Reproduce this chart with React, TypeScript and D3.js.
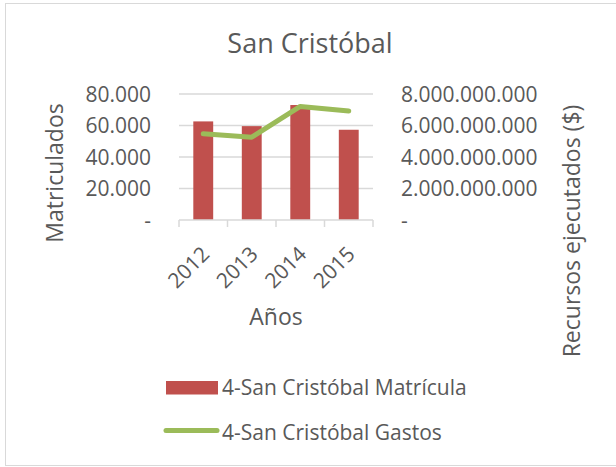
import React from 'react';
import * as d3 from 'd3';

// data
const years = ['2012', '2013', '2014', '2015'];
const matricula = [62600, 59600, 73000, 57300];
const gastos = [5470000000, 5260000000, 7210000000, 6920000000];
const leftTicks = [0, 20000, 40000, 60000, 80000];
const rightTicks = [0, 2000000000, 4000000000, 6000000000, 8000000000];

const W = 616;
const H = 467;
const FONT = '"Open Sans", sans-serif';
const TXT = '#595959';

// numbers like 80.000 (dot thousands), zero shown as "-"
const fmt = (v: number) => (v === 0 ? '-' : d3.format(',')(v).replace(/,/g, '.'));

export default function App() {
  // plot area
  const margin = { top: 94, left: 179, right: 243, bottom: 247 };
  const plotW = W - margin.left - margin.right;
  const plotH = H - margin.top - margin.bottom;

  const x = d3.scaleBand().domain(years).range([0, plotW]).paddingInner(0.59).paddingOuter(0.295);
  const xBand = d3.scaleBand().domain(years).range([0, plotW]);
  const yL = d3.scaleLinear().domain([0, 80000]).range([plotH, 0]);
  const yR = d3.scaleLinear().domain([0, 8000000000]).range([plotH, 0]);

  const line = d3
    .line<number>()
    .x((d, i) => xBand(years[i])! + xBand.bandwidth() / 2)
    .y((d) => yR(d));

  const boundaries = years.map((y) => xBand(y)!).concat([plotW]);

  return (
    <div style={{ position: 'absolute', left: 0, top: 0 }}>
      <svg width={W} height={H} style={{ display: 'block', fontFamily: FONT }}>
        <rect x={0} y={0} width={W} height={H} fill="#fff" />
        <rect x={5.5} y={3.5} width={W + 10} height={462} fill="none" stroke="#d9d9d9" strokeWidth={1} />

        <text x={310} y={53} textAnchor="middle" fontSize={27} fill={TXT}>
          San Cristóbal
        </text>

        <g transform={'translate(' + margin.left + ',' + margin.top + ')'}>
          {/* gridlines */}
          {leftTicks.slice(1).map((t) => (
            <line key={t} x1={0} x2={plotW} y1={yL(t)} y2={yL(t)} stroke="#d9d9d9" strokeWidth={1.5} />
          ))}

          {/* bars */}
          {matricula.map((v, i) => (
            <rect
              key={years[i]}
              x={x(years[i])}
              y={yL(v)}
              width={x.bandwidth()}
              height={plotH - yL(v)}
              fill="#c0504d"
            />
          ))}

          {/* x axis */}
          <line x1={0} x2={plotW} y1={plotH} y2={plotH} stroke="#d9d9d9" strokeWidth={1.5} />
          {boundaries.map((b, i) => (
            <line key={i} x1={b} x2={b} y1={plotH} y2={plotH + 7} stroke="#d9d9d9" strokeWidth={1.5} />
          ))}

          {/* gastos line */}
          <path d={line(gastos) || ''} fill="none" stroke="#9bbb59" strokeWidth={5} strokeLinecap="round" strokeLinejoin="round" />

          {/* left ticks */}
          {leftTicks.map((t) => (
            <text key={t} x={-28} y={yL(t)} dy="0.36em" textAnchor="end" fontSize={21} fill={TXT}>
              {fmt(t)}
            </text>
          ))}

          {/* right ticks */}
          {rightTicks.map((t) => (
            <text key={t} x={plotW + 28} y={yR(t)} dy="0.36em" textAnchor="start" fontSize={21} fill={TXT}>
              {fmt(t)}
            </text>
          ))}

          {/* year labels */}
          {years.map((yr) => (
            <text
              key={yr}
              transform={'translate(' + (xBand(yr)! + xBand.bandwidth() / 2 - 3) + ',' + (plotH + 25) + ') rotate(-45)'}
              textAnchor="end"
              dy="0.71em"
              fontSize={21}
              fill={TXT}
            >
              {yr}
            </text>
          ))}
        </g>

        {/* axis titles */}
        <text transform="translate(63,173) rotate(-90)" textAnchor="middle" fontSize={23} fill={TXT}>
          Matriculados
        </text>
        <text transform="translate(580,231) rotate(-90)" textAnchor="middle" fontSize={23} fill={TXT}>
          Recursos ejecutados ($)
        </text>
        <text x={276} y={325} textAnchor="middle" fontSize={23} fill={TXT}>
          Años
        </text>

        {/* legend */}
        <rect x={166} y={381} width={52} height={13.5} fill="#c0504d" />
        <text x={222} y={394.5} fontSize={21} fill={TXT}>
          4-San Cristóbal Matrícula
        </text>
        <line x1={166} x2={217} y1={430.5} y2={430.5} stroke="#9bbb59" strokeWidth={5} strokeLinecap="round" />
        <text x={222} y={440} fontSize={21} fill={TXT}>
          4-San Cristóbal Gastos
        </text>
      </svg>
    </div>
  );
}
